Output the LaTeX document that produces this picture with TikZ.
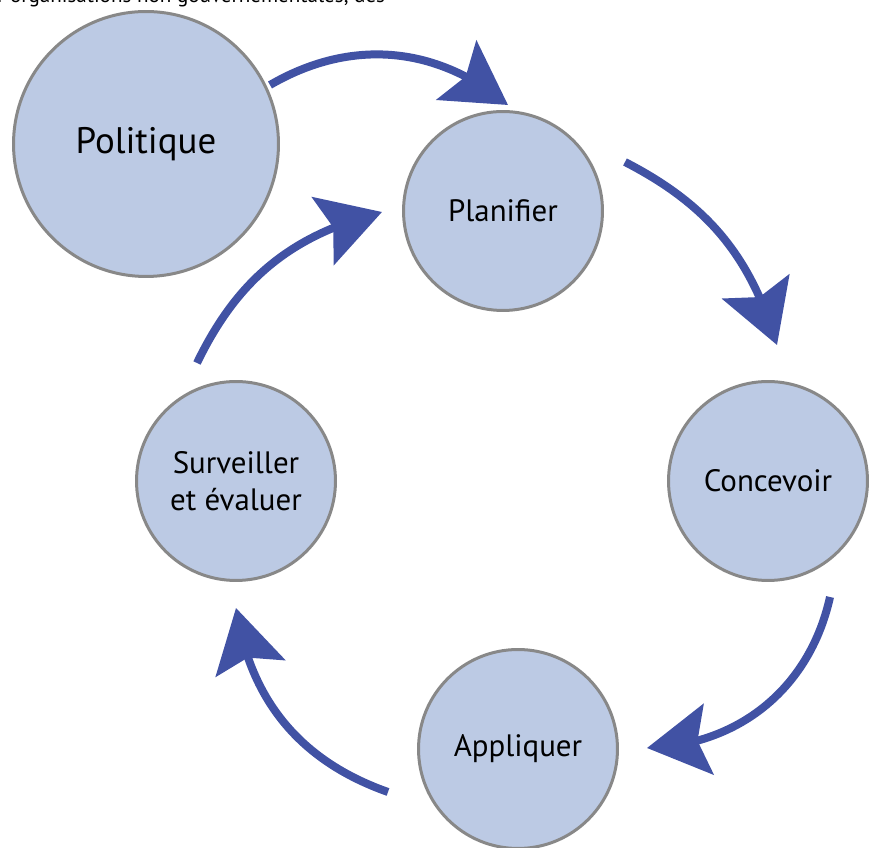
\documentclass[tikz,border=0pt]{standalone}
\usepackage{fontspec}
\setmainfont{PT Sans}
\usetikzlibrary{arrows.meta,bending}
\definecolor{cfill}{RGB}{188,202,228}
\definecolor{cline}{RGB}{136,136,136}
\definecolor{carrow}{RGB}{65,82,164}
\begin{document}
\begin{tikzpicture}[x=0.02cm,y=0.02cm,
  stage/.style={circle,draw=cline,line width=0.06cm,fill=cfill,minimum size=3.98cm,inner sep=0pt,align=center,font=\fontsize{17.6}{21}\selectfont},
  bigstage/.style={stage,minimum size=5.3cm,font=\fontsize{21}{24}\selectfont},
  flow/.style={draw=carrow,line width=0.16cm,-{Stealth[length=1.24cm,width=1.42cm,inset=0.22cm,flex]}},
  toptext/.style={anchor=base west,inner sep=0pt,font=\fontsize{12}{14}\selectfont}]
\useasboundingbox (0,0) rectangle (872,848);
\begin{scope}
\clip (0,0) rectangle (872,848);
\node[toptext] (top) at (-3,845) {r organisations non gouvernementales, des};
\end{scope}
\node[bigstage] (pol) at (146,704) {Politique};
\node[stage] (plan) at (503,637) {Planifier};
\node[stage] (conc) at (768,367) {Concevoir};
\node[stage] (appl) at (518,99) {Appliquer};
\node[stage] (surv) at (236,367) {Surveiller\\et évaluer};
\coordinate (a1s) at (270,763); \coordinate (a1e) at (508,743);
\coordinate (a2s) at (625,686); \coordinate (a2e) at (777,503);
\coordinate (a3s) at (830,251); \coordinate (a3e) at (647,100);
\coordinate (a4s) at (388,56);  \coordinate (a4e) at (236,240);
\coordinate (a5s) at (197,485); \coordinate (a5e) at (382,636);
\draw[flow] (a1s) to[bend left=35] (a1e);
\draw[flow] (a2s) to[bend left=23] (a2e);
\draw[flow] (a3s) to[bend left=38] (a3e);
\draw[flow] (a4s) to[bend left=31] (a4e);
\draw[flow] (a5s) to[bend left=25] (a5e);
\end{tikzpicture}
\end{document}
